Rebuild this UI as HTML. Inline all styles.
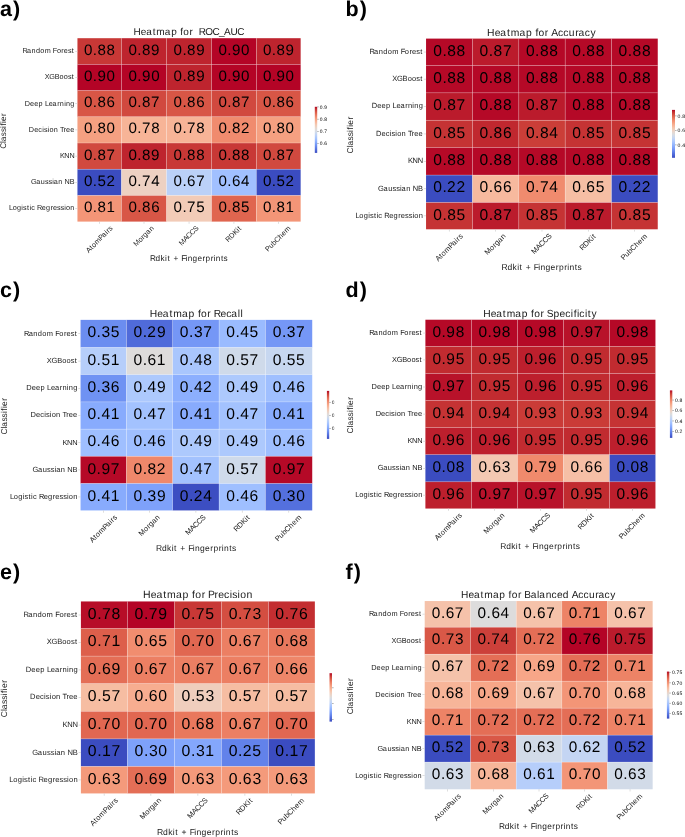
<!DOCTYPE html>
<html><head><meta charset="utf-8"><style>
html,body{margin:0;padding:0;background:#fff;}
body{width:685px;height:837px;overflow:hidden;font-family:"Liberation Sans",sans-serif;}
svg{display:block;filter:blur(0.30px);}
text{font-family:"Liberation Sans",sans-serif;text-rendering:geometricPrecision;}
</style></head><body>
<svg width="685" height="837" viewBox="0 0 685 837" font-family="Liberation Sans, sans-serif" fill="#1a1a1a">
<defs><linearGradient id="ga" x1="0" y1="0" x2="0" y2="1"><stop offset="0.000" stop-color="#b40426"/><stop offset="0.031" stop-color="#be242e"/><stop offset="0.062" stop-color="#ca3b37"/><stop offset="0.094" stop-color="#d44e41"/><stop offset="0.125" stop-color="#dd5f4b"/><stop offset="0.156" stop-color="#e46e56"/><stop offset="0.188" stop-color="#eb7d62"/><stop offset="0.219" stop-color="#f08b6e"/><stop offset="0.250" stop-color="#f4987a"/><stop offset="0.281" stop-color="#f6a586"/><stop offset="0.312" stop-color="#f7b093"/><stop offset="0.344" stop-color="#f7ba9f"/><stop offset="0.375" stop-color="#f5c4ac"/><stop offset="0.406" stop-color="#f1ccb8"/><stop offset="0.438" stop-color="#ecd3c5"/><stop offset="0.469" stop-color="#e5d8d1"/><stop offset="0.500" stop-color="#dddcdc"/><stop offset="0.531" stop-color="#d5dbe5"/><stop offset="0.562" stop-color="#ccd9ed"/><stop offset="0.594" stop-color="#c3d5f4"/><stop offset="0.625" stop-color="#b9d0f9"/><stop offset="0.656" stop-color="#aec9fc"/><stop offset="0.688" stop-color="#a3c2fe"/><stop offset="0.719" stop-color="#98b9ff"/><stop offset="0.750" stop-color="#8db0fe"/><stop offset="0.781" stop-color="#82a6fb"/><stop offset="0.812" stop-color="#779af7"/><stop offset="0.844" stop-color="#6c8ff1"/><stop offset="0.875" stop-color="#6282ea"/><stop offset="0.906" stop-color="#5875e1"/><stop offset="0.938" stop-color="#4e68d8"/><stop offset="0.969" stop-color="#445acc"/><stop offset="1.000" stop-color="#3b4cc0"/></linearGradient><linearGradient id="gb" x1="0" y1="0" x2="0" y2="1"><stop offset="0.000" stop-color="#b40426"/><stop offset="0.031" stop-color="#c0282f"/><stop offset="0.062" stop-color="#ca3b37"/><stop offset="0.094" stop-color="#d44e41"/><stop offset="0.125" stop-color="#dd5f4b"/><stop offset="0.156" stop-color="#e46e56"/><stop offset="0.188" stop-color="#eb7d62"/><stop offset="0.219" stop-color="#f18d6f"/><stop offset="0.250" stop-color="#f4987a"/><stop offset="0.281" stop-color="#f6a586"/><stop offset="0.312" stop-color="#f7b093"/><stop offset="0.344" stop-color="#f7ba9f"/><stop offset="0.375" stop-color="#f4c5ad"/><stop offset="0.406" stop-color="#f1ccb8"/><stop offset="0.438" stop-color="#ecd3c5"/><stop offset="0.469" stop-color="#e5d8d1"/><stop offset="0.500" stop-color="#dddcdc"/><stop offset="0.531" stop-color="#d4dbe6"/><stop offset="0.562" stop-color="#ccd9ed"/><stop offset="0.594" stop-color="#c3d5f4"/><stop offset="0.625" stop-color="#b7cff9"/><stop offset="0.656" stop-color="#aec9fc"/><stop offset="0.688" stop-color="#a2c1ff"/><stop offset="0.719" stop-color="#97b8ff"/><stop offset="0.750" stop-color="#8caffe"/><stop offset="0.781" stop-color="#81a4fb"/><stop offset="0.812" stop-color="#779af7"/><stop offset="0.844" stop-color="#6b8df0"/><stop offset="0.875" stop-color="#6180e9"/><stop offset="0.906" stop-color="#5673e0"/><stop offset="0.938" stop-color="#4c66d6"/><stop offset="0.969" stop-color="#445acc"/><stop offset="1.000" stop-color="#3b4cc0"/></linearGradient><linearGradient id="gc" x1="0" y1="0" x2="0" y2="1"><stop offset="0.000" stop-color="#b40426"/><stop offset="0.031" stop-color="#be242e"/><stop offset="0.062" stop-color="#ca3b37"/><stop offset="0.094" stop-color="#d44e41"/><stop offset="0.125" stop-color="#de614d"/><stop offset="0.156" stop-color="#e57058"/><stop offset="0.188" stop-color="#eb7d62"/><stop offset="0.219" stop-color="#f08b6e"/><stop offset="0.250" stop-color="#f4987a"/><stop offset="0.281" stop-color="#f6a586"/><stop offset="0.312" stop-color="#f7b093"/><stop offset="0.344" stop-color="#f7ba9f"/><stop offset="0.375" stop-color="#f5c4ac"/><stop offset="0.406" stop-color="#f1ccb8"/><stop offset="0.438" stop-color="#ecd3c5"/><stop offset="0.469" stop-color="#e5d8d1"/><stop offset="0.500" stop-color="#dddcdc"/><stop offset="0.531" stop-color="#d5dbe5"/><stop offset="0.562" stop-color="#ccd9ed"/><stop offset="0.594" stop-color="#c1d4f4"/><stop offset="0.625" stop-color="#b7cff9"/><stop offset="0.656" stop-color="#aec9fc"/><stop offset="0.688" stop-color="#a2c1ff"/><stop offset="0.719" stop-color="#98b9ff"/><stop offset="0.750" stop-color="#8db0fe"/><stop offset="0.781" stop-color="#82a6fb"/><stop offset="0.812" stop-color="#779af7"/><stop offset="0.844" stop-color="#6c8ff1"/><stop offset="0.875" stop-color="#6180e9"/><stop offset="0.906" stop-color="#5673e0"/><stop offset="0.938" stop-color="#4c66d6"/><stop offset="0.969" stop-color="#4358cb"/><stop offset="1.000" stop-color="#3b4cc0"/></linearGradient><clipPath id="cc"><rect x="0" y="0" width="334.3" height="837"/></clipPath><linearGradient id="gd" x1="0" y1="0" x2="0" y2="1"><stop offset="0.000" stop-color="#b40426"/><stop offset="0.031" stop-color="#be242e"/><stop offset="0.062" stop-color="#ca3b37"/><stop offset="0.094" stop-color="#d44e41"/><stop offset="0.125" stop-color="#dd5f4b"/><stop offset="0.156" stop-color="#e46e56"/><stop offset="0.188" stop-color="#eb7d62"/><stop offset="0.219" stop-color="#f08b6e"/><stop offset="0.250" stop-color="#f4987a"/><stop offset="0.281" stop-color="#f6a586"/><stop offset="0.312" stop-color="#f7b093"/><stop offset="0.344" stop-color="#f7ba9f"/><stop offset="0.375" stop-color="#f5c4ac"/><stop offset="0.406" stop-color="#f1ccb8"/><stop offset="0.438" stop-color="#ecd3c5"/><stop offset="0.469" stop-color="#e4d9d2"/><stop offset="0.500" stop-color="#dcdddd"/><stop offset="0.531" stop-color="#d4dbe6"/><stop offset="0.562" stop-color="#cbd8ee"/><stop offset="0.594" stop-color="#c1d4f4"/><stop offset="0.625" stop-color="#b7cff9"/><stop offset="0.656" stop-color="#adc9fd"/><stop offset="0.688" stop-color="#a2c1ff"/><stop offset="0.719" stop-color="#97b8ff"/><stop offset="0.750" stop-color="#8caffe"/><stop offset="0.781" stop-color="#81a4fb"/><stop offset="0.812" stop-color="#7699f6"/><stop offset="0.844" stop-color="#6b8df0"/><stop offset="0.875" stop-color="#6180e9"/><stop offset="0.906" stop-color="#5673e0"/><stop offset="0.938" stop-color="#4c66d6"/><stop offset="0.969" stop-color="#4358cb"/><stop offset="1.000" stop-color="#3b4cc0"/></linearGradient><linearGradient id="ge" x1="0" y1="0" x2="0" y2="1"><stop offset="0.000" stop-color="#b40426"/><stop offset="0.031" stop-color="#be242e"/><stop offset="0.062" stop-color="#ca3b37"/><stop offset="0.094" stop-color="#d44e41"/><stop offset="0.125" stop-color="#dd5f4b"/><stop offset="0.156" stop-color="#e46e56"/><stop offset="0.188" stop-color="#ec7f63"/><stop offset="0.219" stop-color="#f08b6e"/><stop offset="0.250" stop-color="#f49a7b"/><stop offset="0.281" stop-color="#f6a586"/><stop offset="0.312" stop-color="#f7b093"/><stop offset="0.344" stop-color="#f7ba9f"/><stop offset="0.375" stop-color="#f5c4ac"/><stop offset="0.406" stop-color="#f1cdba"/><stop offset="0.438" stop-color="#ecd3c5"/><stop offset="0.469" stop-color="#e5d8d1"/><stop offset="0.500" stop-color="#dddcdc"/><stop offset="0.531" stop-color="#d5dbe5"/><stop offset="0.562" stop-color="#ccd9ed"/><stop offset="0.594" stop-color="#c3d5f4"/><stop offset="0.625" stop-color="#b9d0f9"/><stop offset="0.656" stop-color="#aec9fc"/><stop offset="0.688" stop-color="#a3c2fe"/><stop offset="0.719" stop-color="#98b9ff"/><stop offset="0.750" stop-color="#8db0fe"/><stop offset="0.781" stop-color="#82a6fb"/><stop offset="0.812" stop-color="#779af7"/><stop offset="0.844" stop-color="#6c8ff1"/><stop offset="0.875" stop-color="#6282ea"/><stop offset="0.906" stop-color="#5673e0"/><stop offset="0.938" stop-color="#4e68d8"/><stop offset="0.969" stop-color="#4358cb"/><stop offset="1.000" stop-color="#3b4cc0"/></linearGradient><clipPath id="ce"><rect x="0" y="0" width="334.0" height="837"/></clipPath><linearGradient id="gf" x1="0" y1="0" x2="0" y2="1"><stop offset="0.000" stop-color="#b40426"/><stop offset="0.031" stop-color="#c0282f"/><stop offset="0.062" stop-color="#ca3b37"/><stop offset="0.094" stop-color="#d55042"/><stop offset="0.125" stop-color="#dd5f4b"/><stop offset="0.156" stop-color="#e57058"/><stop offset="0.188" stop-color="#eb7d62"/><stop offset="0.219" stop-color="#f18d6f"/><stop offset="0.250" stop-color="#f4987a"/><stop offset="0.281" stop-color="#f7a688"/><stop offset="0.312" stop-color="#f7b093"/><stop offset="0.344" stop-color="#f7bca1"/><stop offset="0.375" stop-color="#f5c4ac"/><stop offset="0.406" stop-color="#f1ccb8"/><stop offset="0.438" stop-color="#ecd3c5"/><stop offset="0.469" stop-color="#e5d8d1"/><stop offset="0.500" stop-color="#dcdddd"/><stop offset="0.531" stop-color="#d5dbe5"/><stop offset="0.562" stop-color="#ccd9ed"/><stop offset="0.594" stop-color="#c3d5f4"/><stop offset="0.625" stop-color="#b7cff9"/><stop offset="0.656" stop-color="#aec9fc"/><stop offset="0.688" stop-color="#a2c1ff"/><stop offset="0.719" stop-color="#98b9ff"/><stop offset="0.750" stop-color="#8caffe"/><stop offset="0.781" stop-color="#82a6fb"/><stop offset="0.812" stop-color="#7699f6"/><stop offset="0.844" stop-color="#6c8ff1"/><stop offset="0.875" stop-color="#6180e9"/><stop offset="0.906" stop-color="#5673e0"/><stop offset="0.938" stop-color="#4c66d6"/><stop offset="0.969" stop-color="#445acc"/><stop offset="1.000" stop-color="#3b4cc0"/></linearGradient></defs>
<rect width="685" height="837" fill="#fff"/>
<g id="pa"><rect x="77.45" y="38.20" width="44.05" height="26.20" fill="#c83836"/>
<rect x="121.45" y="38.20" width="45.15" height="26.20" fill="#be242e"/>
<rect x="166.55" y="38.20" width="45.05" height="26.20" fill="#be242e"/>
<rect x="211.55" y="38.20" width="44.83" height="26.20" fill="#b40426"/>
<rect x="256.33" y="38.20" width="44.32" height="26.20" fill="#be242e"/>
<rect x="77.45" y="64.35" width="44.05" height="26.27" fill="#b40426"/>
<rect x="121.45" y="64.35" width="45.15" height="26.27" fill="#b40426"/>
<rect x="166.55" y="64.35" width="45.05" height="26.27" fill="#be242e"/>
<rect x="211.55" y="64.35" width="44.83" height="26.27" fill="#b40426"/>
<rect x="256.33" y="64.35" width="44.32" height="26.27" fill="#b40426"/>
<rect x="77.45" y="90.57" width="44.05" height="26.27" fill="#d85646"/>
<rect x="121.45" y="90.57" width="45.15" height="26.27" fill="#d1493f"/>
<rect x="166.55" y="90.57" width="45.05" height="26.27" fill="#d85646"/>
<rect x="211.55" y="90.57" width="44.83" height="26.27" fill="#d1493f"/>
<rect x="256.33" y="90.57" width="44.32" height="26.27" fill="#d85646"/>
<rect x="77.45" y="116.79" width="44.05" height="26.27" fill="#f5a081"/>
<rect x="121.45" y="116.79" width="45.15" height="26.27" fill="#f7b497"/>
<rect x="166.55" y="116.79" width="45.05" height="26.27" fill="#f7b497"/>
<rect x="211.55" y="116.79" width="44.83" height="26.27" fill="#f08b6e"/>
<rect x="256.33" y="116.79" width="44.32" height="26.27" fill="#f5a081"/>
<rect x="77.45" y="143.01" width="44.05" height="26.27" fill="#d1493f"/>
<rect x="121.45" y="143.01" width="45.15" height="26.27" fill="#be242e"/>
<rect x="166.55" y="143.01" width="45.05" height="26.27" fill="#c83836"/>
<rect x="211.55" y="143.01" width="44.83" height="26.27" fill="#c83836"/>
<rect x="256.33" y="143.01" width="44.32" height="26.27" fill="#d1493f"/>
<rect x="77.45" y="169.23" width="44.05" height="26.27" fill="#3b4cc0"/>
<rect x="121.45" y="169.23" width="45.15" height="26.27" fill="#edd1c2"/>
<rect x="166.55" y="169.23" width="45.05" height="26.27" fill="#bbd1f8"/>
<rect x="211.55" y="169.23" width="44.83" height="26.27" fill="#a1c0ff"/>
<rect x="256.33" y="169.23" width="44.32" height="26.27" fill="#3b4cc0"/>
<rect x="77.45" y="195.45" width="44.05" height="26.15" fill="#f39577"/>
<rect x="121.45" y="195.45" width="45.15" height="26.15" fill="#d85646"/>
<rect x="166.55" y="195.45" width="45.05" height="26.15" fill="#f2cbb7"/>
<rect x="211.55" y="195.45" width="44.83" height="26.15" fill="#e0654f"/>
<rect x="256.33" y="195.45" width="44.32" height="26.15" fill="#f39577"/>
<rect x="121.17" y="38.20" width="0.55" height="183.35" fill="#fff" fill-opacity="0.48"/>
<rect x="166.28" y="38.20" width="0.55" height="183.35" fill="#fff" fill-opacity="0.48"/>
<rect x="211.28" y="38.20" width="0.55" height="183.35" fill="#fff" fill-opacity="0.48"/>
<rect x="256.06" y="38.20" width="0.55" height="183.35" fill="#fff" fill-opacity="0.48"/>
<rect x="77.45" y="64.07" width="223.15" height="0.55" fill="#fff" fill-opacity="0.48"/>
<rect x="77.45" y="90.29" width="223.15" height="0.55" fill="#fff" fill-opacity="0.48"/>
<rect x="77.45" y="116.51" width="223.15" height="0.55" fill="#fff" fill-opacity="0.48"/>
<rect x="77.45" y="142.73" width="223.15" height="0.55" fill="#fff" fill-opacity="0.48"/>
<rect x="77.45" y="168.95" width="223.15" height="0.55" fill="#fff" fill-opacity="0.48"/>
<rect x="77.45" y="195.17" width="223.15" height="0.55" fill="#fff" fill-opacity="0.48"/>
<text x="83.89 92.80 97.51 106.59" y="54.84" font-size="15.13" fill="#000">0.88</text>
<text x="128.44 137.35 142.06 151.10" y="54.84" font-size="15.13" fill="#000">0.89</text>
<text x="173.49 182.40 187.11 196.15" y="54.84" font-size="15.13" fill="#000">0.89</text>
<text x="218.38 227.29 231.95 241.08" y="54.84" font-size="15.13" fill="#000">0.90</text>
<text x="262.90 271.82 276.52 285.56" y="54.84" font-size="15.13" fill="#000">0.89</text>
<text x="83.89 92.80 97.46 106.59" y="81.03" font-size="15.13" fill="#000">0.90</text>
<text x="128.44 137.35 142.01 151.14" y="81.03" font-size="15.13" fill="#000">0.90</text>
<text x="173.49 182.40 187.11 196.15" y="81.03" font-size="15.13" fill="#000">0.89</text>
<text x="218.38 227.29 231.95 241.08" y="81.03" font-size="15.13" fill="#000">0.90</text>
<text x="262.90 271.82 276.48 285.61" y="81.03" font-size="15.13" fill="#000">0.90</text>
<text x="83.89 92.80 97.51 106.59" y="107.25" font-size="15.13" fill="#000">0.86</text>
<text x="128.44 137.35 142.06 151.11" y="107.25" font-size="15.13" fill="#000">0.87</text>
<text x="173.49 182.40 187.11 196.19" y="107.25" font-size="15.13" fill="#000">0.86</text>
<text x="218.38 227.29 232.00 241.05" y="107.25" font-size="15.13" fill="#000">0.87</text>
<text x="262.90 271.82 276.52 285.61" y="107.25" font-size="15.13" fill="#000">0.86</text>
<text x="83.89 92.80 97.51 106.59" y="133.47" font-size="15.13" fill="#000">0.80</text>
<text x="128.44 137.35 142.03 151.14" y="133.47" font-size="15.13" fill="#000">0.78</text>
<text x="173.49 182.40 187.08 196.19" y="133.47" font-size="15.13" fill="#000">0.78</text>
<text x="218.38 227.29 232.00 240.89" y="133.47" font-size="15.13" fill="#000">0.82</text>
<text x="262.90 271.82 276.52 285.61" y="133.47" font-size="15.13" fill="#000">0.80</text>
<text x="83.89 92.80 97.51 106.56" y="159.69" font-size="15.13" fill="#000">0.87</text>
<text x="128.44 137.35 142.06 151.10" y="159.69" font-size="15.13" fill="#000">0.89</text>
<text x="173.49 182.40 187.11 196.19" y="159.69" font-size="15.13" fill="#000">0.88</text>
<text x="218.38 227.29 232.00 241.08" y="159.69" font-size="15.13" fill="#000">0.88</text>
<text x="262.90 271.82 276.52 285.58" y="159.69" font-size="15.13" fill="#000">0.87</text>
<text x="83.89 92.80 97.45 106.40" y="185.91" font-size="15.13" fill="#000">0.52</text>
<text x="128.44 137.35 142.03 151.14" y="185.91" font-size="15.13" fill="#000">0.74</text>
<text x="173.49 182.40 187.11 196.16" y="185.91" font-size="15.13" fill="#000">0.67</text>
<text x="218.38 227.29 232.00 241.08" y="185.91" font-size="15.13" fill="#000">0.64</text>
<text x="262.90 271.82 276.47 285.42" y="185.91" font-size="15.13" fill="#000">0.52</text>
<text x="83.89 92.80 97.51 106.51" y="212.07" font-size="15.13" fill="#000">0.81</text>
<text x="128.44 137.35 142.06 151.14" y="212.07" font-size="15.13" fill="#000">0.86</text>
<text x="173.49 182.40 187.08 196.14" y="212.07" font-size="15.13" fill="#000">0.75</text>
<text x="218.38 227.29 232.00 241.03" y="212.07" font-size="15.13" fill="#000">0.85</text>
<text x="262.90 271.82 276.52 285.53" y="212.07" font-size="15.13" fill="#000">0.81</text>
<text x="22.54 27.09 31.62 35.90 40.20 44.64 50.96 52.87 56.90 61.33 63.76 67.89 71.74" y="53.16" font-size="7.24">Random Forest</text>
<rect x="75.20" y="50.98" width="2.25" height="0.6" fill="#c8c8c8"/>
<text x="44.75 49.35 54.73 59.58 63.76 67.89 71.74" y="79.35" font-size="7.24">XGBoost</text>
<rect x="75.20" y="77.16" width="2.25" height="0.6" fill="#c8c8c8"/>
<text x="24.74 30.08 34.28 38.58 42.72 44.93 48.69 52.61 57.30 59.83 64.14 66.06 70.34" y="105.57" font-size="7.24">Deep Learning</text>
<rect x="75.20" y="103.38" width="2.25" height="0.6" fill="#c8c8c8"/>
<text x="28.83 34.17 38.26 42.17 43.94 47.63 49.46 53.73 57.90 59.95 63.57 66.00 70.20" y="131.79" font-size="7.24">Decision Tree</text>
<rect x="75.20" y="129.60" width="2.25" height="0.6" fill="#c8c8c8"/>
<text x="59.88 64.33 69.44" y="158.01" font-size="7.24">KNN</text>
<rect x="75.20" y="155.82" width="2.25" height="0.6" fill="#c8c8c8"/>
<text x="30.93 36.22 40.72 44.93 48.49 52.18 53.76 58.29 62.45 64.57 69.66" y="184.23" font-size="7.24">Gaussian NB</text>
<rect x="75.20" y="182.04" width="2.25" height="0.6" fill="#c8c8c8"/>
<text x="9.00 12.74 16.95 21.33 23.09 26.95 29.46 31.20 34.97 37.01 41.69 45.90 50.46 52.89 57.01 60.57 64.26 66.09 70.36" y="210.39" font-size="7.24">Logistic Regression</text>
<rect x="75.20" y="208.20" width="2.25" height="0.6" fill="#c8c8c8"/>
<rect x="99.15" y="221.55" width="0.6" height="2.25" fill="#c8c8c8"/>
<text x="-0.08 4.87 7.31 11.75 17.83 21.71 26.22 28.30 30.80" y="0.00" font-size="7.24" transform="translate(88.74,253.09) rotate(-45)">AtomPairs</text>
<rect x="143.70" y="221.55" width="0.6" height="2.25" fill="#c8c8c8"/>
<text x="-0.07 5.97 10.41 12.88 16.93 21.46" y="0.00" font-size="7.24" transform="translate(136.24,246.75) rotate(-45)">Morgan</text>
<rect x="188.75" y="221.55" width="0.6" height="2.25" fill="#c8c8c8"/>
<text x="-0.07 5.82 10.18 14.95 19.79" y="0.00" font-size="7.24" transform="translate(181.68,245.98) rotate(-45)">MACCS</text>
<rect x="233.64" y="221.55" width="0.6" height="2.25" fill="#c8c8c8"/>
<text x="-0.13 4.77 9.99 14.64 16.71" y="0.00" font-size="7.24" transform="translate(228.35,242.41) rotate(-45)">RDKit</text>
<rect x="278.17" y="221.55" width="0.6" height="2.25" fill="#c8c8c8"/>
<text x="-0.24 4.14 8.53 12.40 17.60 21.88 26.31" y="0.00" font-size="7.24" transform="translate(268.23,251.71) rotate(-45)">PubChem</text>
<text x="133.44 140.75 146.17 152.64 156.36 164.85 171.16 176.88 180.27 183.31 189.43 192.86 195.86 198.68 205.25 212.48 219.05 224.06 230.47 237.17" y="35.28" font-size="10.00" style="white-space:pre">Heatmap for  ROC_AUC</text>
<text x="149.91 155.58 160.62 165.03 167.38 170.06 173.38 179.03 181.19 185.56 187.73 192.59 197.50 202.53 205.57 210.64 213.62 215.80 220.88 223.58" y="261.16" font-size="8.22">Rdkit + Fingerprints</text>
<text x="-0.30 5.58 7.37 12.34 16.38 20.57 22.88 25.46 27.56 32.59" y="0.00" font-size="8.22" transform="translate(6.41,148.49) rotate(-90)">Classifier</text>
<rect x="314.80" y="106.80" width="2.40" height="46.10" fill="url(#ga)"/>
<g><rect x="317.20" y="106.62" width="1.57" height="0.6" fill="#888"/><text x="319.80 322.72 324.25" y="108.66" font-size="4.95" fill="#000">0.9</text><rect x="317.20" y="118.87" width="1.57" height="0.6" fill="#888"/><text x="319.80 322.72 324.26" y="120.90" font-size="4.95" fill="#000">0.8</text><rect x="317.20" y="131.11" width="1.57" height="0.6" fill="#888"/><text x="319.80 322.72 324.25" y="133.15" font-size="4.95" fill="#000">0.7</text><rect x="317.20" y="143.36" width="1.57" height="0.6" fill="#888"/><text x="319.80 322.72 324.26" y="145.39" font-size="4.95" fill="#000">0.6</text></g>
<text x="0.0" y="15.8" font-size="21.5" font-weight="bold" fill="#000">a<tspan dx="1">)</tspan></text></g><g id="pb"><rect x="426.05" y="38.60" width="46.43" height="26.88" fill="#b50927"/>
<rect x="472.43" y="38.60" width="46.41" height="26.88" fill="#bb1b2c"/>
<rect x="518.79" y="38.60" width="46.41" height="26.88" fill="#b50927"/>
<rect x="565.16" y="38.60" width="46.41" height="26.88" fill="#b50927"/>
<rect x="611.52" y="38.60" width="46.23" height="26.88" fill="#b50927"/>
<rect x="426.05" y="65.43" width="46.43" height="27.46" fill="#b50927"/>
<rect x="472.43" y="65.43" width="46.41" height="27.46" fill="#b50927"/>
<rect x="518.79" y="65.43" width="46.41" height="27.46" fill="#b50927"/>
<rect x="565.16" y="65.43" width="46.41" height="27.46" fill="#b50927"/>
<rect x="611.52" y="65.43" width="46.23" height="27.46" fill="#b50927"/>
<rect x="426.05" y="92.84" width="46.43" height="27.46" fill="#bb1b2c"/>
<rect x="472.43" y="92.84" width="46.41" height="27.46" fill="#b50927"/>
<rect x="518.79" y="92.84" width="46.41" height="27.46" fill="#bb1b2c"/>
<rect x="565.16" y="92.84" width="46.41" height="27.46" fill="#b50927"/>
<rect x="611.52" y="92.84" width="46.23" height="27.46" fill="#b50927"/>
<rect x="426.05" y="120.25" width="46.43" height="27.46" fill="#c53334"/>
<rect x="472.43" y="120.25" width="46.41" height="27.46" fill="#c0282f"/>
<rect x="518.79" y="120.25" width="46.41" height="27.46" fill="#cb3e38"/>
<rect x="565.16" y="120.25" width="46.41" height="27.46" fill="#c53334"/>
<rect x="611.52" y="120.25" width="46.23" height="27.46" fill="#c53334"/>
<rect x="426.05" y="147.66" width="46.43" height="27.46" fill="#b50927"/>
<rect x="472.43" y="147.66" width="46.41" height="27.46" fill="#b50927"/>
<rect x="518.79" y="147.66" width="46.41" height="27.46" fill="#b50927"/>
<rect x="565.16" y="147.66" width="46.41" height="27.46" fill="#b50927"/>
<rect x="611.52" y="147.66" width="46.23" height="27.46" fill="#b50927"/>
<rect x="426.05" y="175.07" width="46.43" height="27.46" fill="#3b4cc0"/>
<rect x="472.43" y="175.07" width="46.41" height="27.46" fill="#f7b99e"/>
<rect x="518.79" y="175.07" width="46.41" height="27.46" fill="#f08b6e"/>
<rect x="565.16" y="175.07" width="46.41" height="27.46" fill="#f6bea4"/>
<rect x="611.52" y="175.07" width="46.23" height="27.46" fill="#3b4cc0"/>
<rect x="426.05" y="202.48" width="46.43" height="26.82" fill="#c53334"/>
<rect x="472.43" y="202.48" width="46.41" height="26.82" fill="#bb1b2c"/>
<rect x="518.79" y="202.48" width="46.41" height="26.82" fill="#c53334"/>
<rect x="565.16" y="202.48" width="46.41" height="26.82" fill="#bb1b2c"/>
<rect x="611.52" y="202.48" width="46.23" height="26.82" fill="#c53334"/>
<rect x="472.16" y="38.60" width="0.55" height="190.65" fill="#fff" fill-opacity="0.48"/>
<rect x="518.52" y="38.60" width="0.55" height="190.65" fill="#fff" fill-opacity="0.48"/>
<rect x="564.88" y="38.60" width="0.55" height="190.65" fill="#fff" fill-opacity="0.48"/>
<rect x="611.25" y="38.60" width="0.55" height="190.65" fill="#fff" fill-opacity="0.48"/>
<rect x="426.05" y="65.16" width="231.65" height="0.55" fill="#fff" fill-opacity="0.48"/>
<rect x="426.05" y="92.56" width="231.65" height="0.55" fill="#fff" fill-opacity="0.48"/>
<rect x="426.05" y="119.97" width="231.65" height="0.55" fill="#fff" fill-opacity="0.48"/>
<rect x="426.05" y="147.38" width="231.65" height="0.55" fill="#fff" fill-opacity="0.48"/>
<rect x="426.05" y="174.79" width="231.65" height="0.55" fill="#fff" fill-opacity="0.48"/>
<rect x="426.05" y="202.20" width="231.65" height="0.55" fill="#fff" fill-opacity="0.48"/>
<text x="433.19 442.38 447.24 456.60" y="55.70" font-size="15.60" fill="#000">0.88</text>
<text x="479.57 488.75 493.61 502.95" y="55.70" font-size="15.60" fill="#000">0.87</text>
<text x="525.93 535.12 539.97 549.34" y="55.70" font-size="15.60" fill="#000">0.88</text>
<text x="572.29 581.48 586.34 595.70" y="55.70" font-size="15.60" fill="#000">0.88</text>
<text x="618.56 627.75 632.61 641.97" y="55.70" font-size="15.60" fill="#000">0.88</text>
<text x="433.19 442.38 447.24 456.60" y="82.82" font-size="15.60" fill="#000">0.88</text>
<text x="479.57 488.75 493.61 502.98" y="82.82" font-size="15.60" fill="#000">0.88</text>
<text x="525.93 535.12 539.97 549.34" y="82.82" font-size="15.60" fill="#000">0.88</text>
<text x="572.29 581.48 586.34 595.70" y="82.82" font-size="15.60" fill="#000">0.88</text>
<text x="618.56 627.75 632.61 641.97" y="82.82" font-size="15.60" fill="#000">0.88</text>
<text x="433.19 442.38 447.24 456.58" y="110.23" font-size="15.60" fill="#000">0.87</text>
<text x="479.57 488.75 493.61 502.98" y="110.23" font-size="15.60" fill="#000">0.88</text>
<text x="525.93 535.12 539.97 549.31" y="110.23" font-size="15.60" fill="#000">0.87</text>
<text x="572.29 581.48 586.34 595.70" y="110.23" font-size="15.60" fill="#000">0.88</text>
<text x="618.56 627.75 632.61 641.97" y="110.23" font-size="15.60" fill="#000">0.88</text>
<text x="433.19 442.38 447.24 456.55" y="137.64" font-size="15.60" fill="#000">0.85</text>
<text x="479.57 488.75 493.61 502.98" y="137.64" font-size="15.60" fill="#000">0.86</text>
<text x="525.93 535.12 539.97 549.34" y="137.64" font-size="15.60" fill="#000">0.84</text>
<text x="572.29 581.48 586.34 595.65" y="137.64" font-size="15.60" fill="#000">0.85</text>
<text x="618.56 627.75 632.61 641.92" y="137.64" font-size="15.60" fill="#000">0.85</text>
<text x="433.19 442.38 447.24 456.60" y="165.05" font-size="15.60" fill="#000">0.88</text>
<text x="479.57 488.75 493.61 502.98" y="165.05" font-size="15.60" fill="#000">0.88</text>
<text x="525.93 535.12 539.97 549.34" y="165.05" font-size="15.60" fill="#000">0.88</text>
<text x="572.29 581.48 586.34 595.70" y="165.05" font-size="15.60" fill="#000">0.88</text>
<text x="618.56 627.75 632.61 641.97" y="165.05" font-size="15.60" fill="#000">0.88</text>
<text x="433.19 442.38 447.04 456.41" y="192.46" font-size="15.60" fill="#000">0.22</text>
<text x="479.57 488.75 493.61 502.98" y="192.46" font-size="15.60" fill="#000">0.66</text>
<text x="525.93 535.12 539.94 549.34" y="192.46" font-size="15.60" fill="#000">0.74</text>
<text x="572.29 581.48 586.34 595.65" y="192.46" font-size="15.60" fill="#000">0.65</text>
<text x="618.56 627.75 632.41 641.78" y="192.46" font-size="15.60" fill="#000">0.22</text>
<text x="433.19 442.38 447.24 456.55" y="219.55" font-size="15.60" fill="#000">0.85</text>
<text x="479.57 488.75 493.61 502.95" y="219.55" font-size="15.60" fill="#000">0.87</text>
<text x="525.93 535.12 539.97 549.28" y="219.55" font-size="15.60" fill="#000">0.85</text>
<text x="572.29 581.48 586.34 595.67" y="219.55" font-size="15.60" fill="#000">0.87</text>
<text x="618.56 627.75 632.61 641.92" y="219.55" font-size="15.60" fill="#000">0.85</text>
<text x="369.42 374.12 378.79 383.20 387.64 392.21 398.74 400.71 404.86 409.43 411.94 416.19 420.16" y="53.96" font-size="7.47">Random Forest</text>
<rect x="423.73" y="51.72" width="2.32" height="0.6" fill="#c8c8c8"/>
<text x="392.33 397.08 402.62 407.63 411.94 416.19 420.16" y="81.08" font-size="7.47">XGBoost</text>
<rect x="423.73" y="78.84" width="2.32" height="0.6" fill="#c8c8c8"/>
<text x="371.70 377.20 381.54 385.97 390.24 392.51 396.39 400.43 405.28 407.88 412.33 414.31 418.72" y="108.49" font-size="7.47">Deep Learning</text>
<rect x="423.73" y="106.25" width="2.32" height="0.6" fill="#c8c8c8"/>
<text x="375.91 381.42 385.63 389.67 391.50 395.30 397.19 401.59 405.89 408.00 411.73 414.24 418.58" y="135.90" font-size="7.47">Decision Tree</text>
<rect x="423.73" y="133.65" width="2.32" height="0.6" fill="#c8c8c8"/>
<text x="407.94 412.52 417.79" y="163.31" font-size="7.47">KNN</text>
<rect x="423.73" y="161.06" width="2.32" height="0.6" fill="#c8c8c8"/>
<text x="378.08 383.53 388.18 392.52 396.19 400.00 401.62 406.29 410.59 412.76 418.01" y="190.72" font-size="7.47">Gaussian NB</text>
<rect x="423.73" y="188.47" width="2.32" height="0.6" fill="#c8c8c8"/>
<text x="355.46 359.32 363.67 368.17 370.00 373.98 376.57 378.36 382.25 384.35 389.17 393.52 398.21 400.72 404.97 408.64 412.45 414.34 418.74" y="217.81" font-size="7.47">Logistic Regression</text>
<rect x="423.73" y="215.56" width="2.32" height="0.6" fill="#c8c8c8"/>
<rect x="448.94" y="229.25" width="0.6" height="2.32" fill="#c8c8c8"/>
<text x="-0.08 5.02 7.54 12.11 18.39 22.39 27.04 29.19 31.76" y="0.00" font-size="7.47" transform="translate(438.20,261.78) rotate(-45)">AtomPairs</text>
<rect x="495.31" y="229.25" width="0.6" height="2.32" fill="#c8c8c8"/>
<text x="-0.07 6.16 10.73 13.28 17.45 22.13" y="0.00" font-size="7.47" transform="translate(487.61,255.24) rotate(-45)">Morgan</text>
<rect x="541.67" y="229.25" width="0.6" height="2.32" fill="#c8c8c8"/>
<text x="-0.07 6.00 10.50 15.42 20.40" y="0.00" font-size="7.47" transform="translate(534.37,254.44) rotate(-45)">MACCS</text>
<rect x="588.04" y="229.25" width="0.6" height="2.32" fill="#c8c8c8"/>
<text x="-0.14 4.92 10.30 15.10 17.23" y="0.00" font-size="7.47" transform="translate(582.58,250.76) rotate(-45)">RDKit</text>
<rect x="634.31" y="229.25" width="0.6" height="2.32" fill="#c8c8c8"/>
<text x="-0.25 4.27 8.80 12.79 18.15 22.56 27.13" y="0.00" font-size="7.47" transform="translate(624.05,260.35) rotate(-45)">PubChem</text>
<text x="487.10 494.63 500.22 506.89 510.73 519.49 525.99 531.89 535.39 538.53 544.84 548.37 551.36 557.94 563.29 568.86 575.30 578.58 584.79 590.46" y="35.59" font-size="10.32" style="white-space:pre">Heatmap for Accuracy</text>
<text x="501.54 507.39 512.59 517.14 519.55 522.32 525.74 531.56 533.80 538.30 540.54 545.55 550.61 555.80 558.93 564.16 567.24 569.48 574.73 577.51" y="270.10" font-size="8.47">Rdkit + Fingerprints</text>
<text x="-0.31 5.75 7.60 12.73 16.90 21.21 23.60 26.25 28.42 33.61" y="0.00" font-size="8.47" transform="translate(352.80,153.10) rotate(-90)">Classifier</text>
<rect x="672.00" y="109.90" width="3.00" height="47.90" fill="url(#gb)"/>
<g><rect x="675.00" y="115.61" width="1.62" height="0.6" fill="#888"/><text x="677.59 680.60 682.19" y="117.70" font-size="5.11" fill="#000">0.8</text><rect x="675.00" y="130.11" width="1.62" height="0.6" fill="#888"/><text x="677.59 680.60 682.19" y="132.20" font-size="5.11" fill="#000">0.6</text><rect x="675.00" y="144.60" width="1.62" height="0.6" fill="#888"/><text x="677.59 680.60 682.19" y="146.69" font-size="5.11" fill="#000">0.4</text></g>
<text x="345.5" y="15.8" font-size="21.5" font-weight="bold" fill="#000">b<tspan dx="1">)</tspan></text></g><g id="pc"><rect x="80.55" y="319.87" width="45.90" height="27.68" fill="#6b8df0"/>
<rect x="126.40" y="319.87" width="46.38" height="27.68" fill="#506bda"/>
<rect x="172.73" y="319.87" width="46.38" height="27.68" fill="#7597f6"/>
<rect x="219.07" y="319.87" width="46.38" height="27.68" fill="#9abbff"/>
<rect x="265.40" y="319.87" width="46.83" height="27.68" fill="#7597f6"/>
<rect x="80.55" y="347.50" width="45.90" height="27.25" fill="#b6cefa"/>
<rect x="126.40" y="347.50" width="46.38" height="27.25" fill="#dedcdb"/>
<rect x="172.73" y="347.50" width="46.38" height="27.25" fill="#a9c6fd"/>
<rect x="219.07" y="347.50" width="46.38" height="27.25" fill="#cfdaea"/>
<rect x="265.40" y="347.50" width="46.83" height="27.25" fill="#c7d7f0"/>
<rect x="80.55" y="374.70" width="45.90" height="27.25" fill="#6f92f3"/>
<rect x="126.40" y="374.70" width="46.38" height="27.25" fill="#adc9fd"/>
<rect x="172.73" y="374.70" width="46.38" height="27.25" fill="#8caffe"/>
<rect x="219.07" y="374.70" width="46.38" height="27.25" fill="#adc9fd"/>
<rect x="265.40" y="374.70" width="46.83" height="27.25" fill="#9fbfff"/>
<rect x="80.55" y="401.90" width="45.90" height="27.25" fill="#88abfd"/>
<rect x="126.40" y="401.90" width="46.38" height="27.25" fill="#a3c2fe"/>
<rect x="172.73" y="401.90" width="46.38" height="27.25" fill="#88abfd"/>
<rect x="219.07" y="401.90" width="46.38" height="27.25" fill="#a3c2fe"/>
<rect x="265.40" y="401.90" width="46.83" height="27.25" fill="#88abfd"/>
<rect x="80.55" y="429.10" width="45.90" height="27.25" fill="#9fbfff"/>
<rect x="126.40" y="429.10" width="46.38" height="27.25" fill="#9fbfff"/>
<rect x="172.73" y="429.10" width="46.38" height="27.25" fill="#adc9fd"/>
<rect x="219.07" y="429.10" width="46.38" height="27.25" fill="#adc9fd"/>
<rect x="265.40" y="429.10" width="46.83" height="27.25" fill="#9fbfff"/>
<rect x="80.55" y="456.30" width="45.90" height="27.25" fill="#b50927"/>
<rect x="126.40" y="456.30" width="46.38" height="27.25" fill="#ef886b"/>
<rect x="172.73" y="456.30" width="46.38" height="27.25" fill="#a3c2fe"/>
<rect x="219.07" y="456.30" width="46.38" height="27.25" fill="#cfdaea"/>
<rect x="265.40" y="456.30" width="46.83" height="27.25" fill="#b50927"/>
<rect x="80.55" y="483.50" width="45.90" height="26.93" fill="#88abfd"/>
<rect x="126.40" y="483.50" width="46.38" height="26.93" fill="#7ea1fa"/>
<rect x="172.73" y="483.50" width="46.38" height="26.93" fill="#3c4ec2"/>
<rect x="219.07" y="483.50" width="46.38" height="26.93" fill="#9fbfff"/>
<rect x="265.40" y="483.50" width="46.83" height="26.93" fill="#5470de"/>
<rect x="126.12" y="319.87" width="0.55" height="190.51" fill="#fff" fill-opacity="0.48"/>
<rect x="172.46" y="319.87" width="0.55" height="190.51" fill="#fff" fill-opacity="0.48"/>
<rect x="218.79" y="319.87" width="0.55" height="190.51" fill="#fff" fill-opacity="0.48"/>
<rect x="265.12" y="319.87" width="0.55" height="190.51" fill="#fff" fill-opacity="0.48"/>
<rect x="80.55" y="347.23" width="231.63" height="0.55" fill="#fff" fill-opacity="0.48"/>
<rect x="80.55" y="374.43" width="231.63" height="0.55" fill="#fff" fill-opacity="0.48"/>
<rect x="80.55" y="401.62" width="231.63" height="0.55" fill="#fff" fill-opacity="0.48"/>
<rect x="80.55" y="428.83" width="231.63" height="0.55" fill="#fff" fill-opacity="0.48"/>
<rect x="80.55" y="456.03" width="231.63" height="0.55" fill="#fff" fill-opacity="0.48"/>
<rect x="80.55" y="483.23" width="231.63" height="0.55" fill="#fff" fill-opacity="0.48"/>
<text x="87.44 96.62 101.50 110.78" y="337.36" font-size="15.59" fill="#000">0.35</text>
<text x="133.53 142.71 147.37 156.88" y="337.36" font-size="15.59" fill="#000">0.29</text>
<text x="179.86 189.05 193.92 203.23" y="337.36" font-size="15.59" fill="#000">0.37</text>
<text x="226.20 235.38 240.23 249.54" y="337.36" font-size="15.59" fill="#000">0.45</text>
<text x="272.75 281.94 286.81 296.12" y="337.36" font-size="15.59" fill="#000">0.37</text>
<text x="87.44 96.62 101.42 110.75" y="364.78" font-size="15.59" fill="#000">0.51</text>
<text x="133.53 142.71 147.57 156.85" y="364.78" font-size="15.59" fill="#000">0.61</text>
<text x="179.86 189.05 193.90 203.26" y="364.78" font-size="15.59" fill="#000">0.48</text>
<text x="226.20 235.38 240.18 249.56" y="364.78" font-size="15.59" fill="#000">0.57</text>
<text x="272.75 281.94 286.73 296.09" y="364.78" font-size="15.59" fill="#000">0.55</text>
<text x="87.44 96.62 101.50 110.84" y="391.98" font-size="15.59" fill="#000">0.36</text>
<text x="133.53 142.71 147.57 156.88" y="391.98" font-size="15.59" fill="#000">0.49</text>
<text x="179.86 189.05 193.90 203.07" y="391.98" font-size="15.59" fill="#000">0.42</text>
<text x="226.20 235.38 240.23 249.55" y="391.98" font-size="15.59" fill="#000">0.49</text>
<text x="272.75 281.94 286.79 296.15" y="391.98" font-size="15.59" fill="#000">0.46</text>
<text x="87.44 96.62 101.47 110.75" y="419.18" font-size="15.59" fill="#000">0.41</text>
<text x="133.53 142.71 147.57 156.90" y="419.18" font-size="15.59" fill="#000">0.47</text>
<text x="179.86 189.05 193.90 203.18" y="419.18" font-size="15.59" fill="#000">0.41</text>
<text x="226.20 235.38 240.23 249.56" y="419.18" font-size="15.59" fill="#000">0.47</text>
<text x="272.75 281.94 286.79 296.07" y="419.18" font-size="15.59" fill="#000">0.41</text>
<text x="87.44 96.62 101.47 110.84" y="446.38" font-size="15.59" fill="#000">0.46</text>
<text x="133.53 142.71 147.57 156.93" y="446.38" font-size="15.59" fill="#000">0.46</text>
<text x="179.86 189.05 193.90 203.21" y="446.38" font-size="15.59" fill="#000">0.49</text>
<text x="226.20 235.38 240.23 249.55" y="446.38" font-size="15.59" fill="#000">0.49</text>
<text x="272.75 281.94 286.79 296.15" y="446.38" font-size="15.59" fill="#000">0.46</text>
<text x="87.44 96.62 101.43 110.81" y="473.58" font-size="15.59" fill="#000">0.97</text>
<text x="133.53 142.71 147.57 156.73" y="473.58" font-size="15.59" fill="#000">0.82</text>
<text x="179.86 189.05 193.90 203.23" y="473.58" font-size="15.59" fill="#000">0.47</text>
<text x="226.20 235.38 240.18 249.56" y="473.58" font-size="15.59" fill="#000">0.57</text>
<text x="272.75 281.94 286.74 296.12" y="473.58" font-size="15.59" fill="#000">0.97</text>
<text x="87.44 96.62 101.47 110.75" y="500.62" font-size="15.59" fill="#000">0.41</text>
<text x="133.53 142.71 147.59 156.88" y="500.62" font-size="15.59" fill="#000">0.39</text>
<text x="179.86 189.05 193.71 203.26" y="500.62" font-size="15.59" fill="#000">0.24</text>
<text x="226.20 235.38 240.23 249.59" y="500.62" font-size="15.59" fill="#000">0.46</text>
<text x="272.75 281.94 286.81 296.15" y="500.62" font-size="15.59" fill="#000">0.30</text>
<text x="23.96 28.65 33.32 37.73 42.16 46.73 53.25 55.22 59.37 63.94 66.45 70.69 74.67" y="335.63" font-size="7.46">Random Forest</text>
<rect x="78.23" y="333.38" width="2.32" height="0.6" fill="#c8c8c8"/>
<text x="46.86 51.59 57.14 62.14 66.45 70.69 74.67" y="363.05" font-size="7.46">XGBoost</text>
<rect x="78.23" y="360.80" width="2.32" height="0.6" fill="#c8c8c8"/>
<text x="26.23 31.73 36.06 40.50 44.76 47.03 50.91 54.95 59.79 62.39 66.84 68.81 73.22" y="390.25" font-size="7.46">Deep Learning</text>
<rect x="78.23" y="388.00" width="2.32" height="0.6" fill="#c8c8c8"/>
<text x="30.44 35.94 40.16 44.20 46.02 49.82 51.71 56.11 60.40 62.51 66.24 68.75 73.08" y="417.45" font-size="7.46">Decision Tree</text>
<rect x="78.23" y="415.20" width="2.32" height="0.6" fill="#c8c8c8"/>
<text x="62.45 67.03 72.30" y="444.65" font-size="7.46">KNN</text>
<rect x="78.23" y="442.40" width="2.32" height="0.6" fill="#c8c8c8"/>
<text x="32.61 38.06 42.70 47.04 50.71 54.51 56.13 60.80 65.10 67.27 72.52" y="471.85" font-size="7.46">Gaussian NB</text>
<rect x="78.23" y="469.60" width="2.32" height="0.6" fill="#c8c8c8"/>
<text x="10.01 13.86 18.21 22.71 24.53 28.51 31.10 32.89 36.77 38.88 43.70 48.04 52.73 55.24 59.49 63.15 66.96 68.84 73.24" y="498.89" font-size="7.46">Logistic Regression</text>
<rect x="78.23" y="496.64" width="2.32" height="0.6" fill="#c8c8c8"/>
<rect x="103.17" y="510.38" width="0.6" height="2.32" fill="#c8c8c8"/>
<text x="-0.08 5.02 7.54 12.11 18.38 22.37 27.02 29.17 31.74" y="0.00" font-size="7.46" transform="translate(92.44,542.89) rotate(-45)">AtomPairs</text>
<rect x="149.27" y="510.38" width="0.6" height="2.32" fill="#c8c8c8"/>
<text x="-0.07 6.16 10.72 13.28 17.44 22.11" y="0.00" font-size="7.46" transform="translate(141.57,536.35) rotate(-45)">Morgan</text>
<rect x="195.60" y="510.38" width="0.6" height="2.32" fill="#c8c8c8"/>
<text x="-0.07 5.99 10.49 15.41 20.39" y="0.00" font-size="7.46" transform="translate(188.30,535.56) rotate(-45)">MACCS</text>
<rect x="241.93" y="510.38" width="0.6" height="2.32" fill="#c8c8c8"/>
<text x="-0.14 4.92 10.29 15.09 17.22" y="0.00" font-size="7.46" transform="translate(236.47,531.88) rotate(-45)">RDKit</text>
<rect x="288.49" y="510.38" width="0.6" height="2.32" fill="#c8c8c8"/>
<text x="-0.25 4.26 8.79 12.78 18.14 22.54 27.11" y="0.00" font-size="7.46" transform="translate(278.24,541.46) rotate(-45)">PubChem</text>
<text x="149.63 157.16 162.75 169.41 173.25 182.00 188.50 194.40 197.89 201.03 207.34 210.87 213.77 220.43 226.25 231.37 237.79 240.49" y="316.86" font-size="10.31" style="white-space:pre">Heatmap for Recall</text>
<text x="156.06 161.90 167.10 171.64 174.06 176.82 180.24 186.06 188.30 192.79 195.03 200.04 205.10 210.28 213.41 218.64 221.71 223.95 229.19 231.98" y="551.20" font-size="8.47">Rdkit + Fingerprints</text>
<text x="-0.31 5.75 7.59 12.72 16.88 21.20 23.58 26.24 28.40 33.58" y="0.00" font-size="8.47" transform="translate(7.34,434.29) rotate(-90)">Classifier</text>
<rect x="326.90" y="390.90" width="2.30" height="48.00" fill="url(#gc)"/>
<g clip-path="url(#cc)"><rect x="329.20" y="401.98" width="1.62" height="0.6" fill="#888"/><text x="331.79 334.80 336.39" y="404.07" font-size="5.11" fill="#000">0.8</text><rect x="329.20" y="414.99" width="1.62" height="0.6" fill="#888"/><text x="331.79 334.80 336.39" y="417.08" font-size="5.11" fill="#000">0.6</text><rect x="329.20" y="428.00" width="1.62" height="0.6" fill="#888"/><text x="331.79 334.80 336.39" y="430.09" font-size="5.11" fill="#000">0.4</text></g>
<text x="0.0" y="297.4" font-size="21.5" font-weight="bold" fill="#000">c<tspan dx="1">)</tspan></text></g><g id="pd"><rect x="425.40" y="319.72" width="46.05" height="26.71" fill="#b50927"/>
<rect x="471.40" y="319.72" width="46.07" height="26.71" fill="#b50927"/>
<rect x="517.42" y="319.72" width="46.07" height="26.71" fill="#b50927"/>
<rect x="563.45" y="319.72" width="46.07" height="26.71" fill="#b8122a"/>
<rect x="609.47" y="319.72" width="45.98" height="26.71" fill="#b50927"/>
<rect x="425.40" y="346.38" width="46.05" height="27.13" fill="#c12b30"/>
<rect x="471.40" y="346.38" width="46.07" height="27.13" fill="#c12b30"/>
<rect x="517.42" y="346.38" width="46.07" height="27.13" fill="#bd1f2d"/>
<rect x="563.45" y="346.38" width="46.07" height="27.13" fill="#c12b30"/>
<rect x="609.47" y="346.38" width="45.98" height="27.13" fill="#c12b30"/>
<rect x="425.40" y="373.46" width="46.05" height="27.13" fill="#b8122a"/>
<rect x="471.40" y="373.46" width="46.07" height="27.13" fill="#c12b30"/>
<rect x="517.42" y="373.46" width="46.07" height="27.13" fill="#bd1f2d"/>
<rect x="563.45" y="373.46" width="46.07" height="27.13" fill="#c12b30"/>
<rect x="609.47" y="373.46" width="45.98" height="27.13" fill="#bd1f2d"/>
<rect x="425.40" y="400.55" width="46.05" height="27.13" fill="#c53334"/>
<rect x="471.40" y="400.55" width="46.07" height="27.13" fill="#c53334"/>
<rect x="517.42" y="400.55" width="46.07" height="27.13" fill="#ca3b37"/>
<rect x="563.45" y="400.55" width="46.07" height="27.13" fill="#ca3b37"/>
<rect x="609.47" y="400.55" width="45.98" height="27.13" fill="#c53334"/>
<rect x="425.40" y="427.63" width="46.05" height="27.13" fill="#bd1f2d"/>
<rect x="471.40" y="427.63" width="46.07" height="27.13" fill="#bd1f2d"/>
<rect x="517.42" y="427.63" width="46.07" height="27.13" fill="#c12b30"/>
<rect x="563.45" y="427.63" width="46.07" height="27.13" fill="#c12b30"/>
<rect x="609.47" y="427.63" width="45.98" height="27.13" fill="#bd1f2d"/>
<rect x="425.40" y="454.72" width="46.05" height="27.13" fill="#3b4cc0"/>
<rect x="471.40" y="454.72" width="46.07" height="27.13" fill="#f3c8b2"/>
<rect x="517.42" y="454.72" width="46.07" height="27.13" fill="#f08a6c"/>
<rect x="563.45" y="454.72" width="46.07" height="27.13" fill="#f6bfa6"/>
<rect x="609.47" y="454.72" width="45.98" height="27.13" fill="#3b4cc0"/>
<rect x="425.40" y="481.80" width="46.05" height="26.75" fill="#bd1f2d"/>
<rect x="471.40" y="481.80" width="46.07" height="26.75" fill="#b8122a"/>
<rect x="517.42" y="481.80" width="46.07" height="26.75" fill="#b8122a"/>
<rect x="563.45" y="481.80" width="46.07" height="26.75" fill="#c12b30"/>
<rect x="609.47" y="481.80" width="45.98" height="26.75" fill="#bd1f2d"/>
<rect x="471.12" y="319.72" width="0.55" height="188.78" fill="#fff" fill-opacity="0.48"/>
<rect x="517.15" y="319.72" width="0.55" height="188.78" fill="#fff" fill-opacity="0.48"/>
<rect x="563.17" y="319.72" width="0.55" height="188.78" fill="#fff" fill-opacity="0.48"/>
<rect x="609.20" y="319.72" width="0.55" height="188.78" fill="#fff" fill-opacity="0.48"/>
<rect x="425.40" y="346.11" width="230.00" height="0.55" fill="#fff" fill-opacity="0.48"/>
<rect x="425.40" y="373.19" width="230.00" height="0.55" fill="#fff" fill-opacity="0.48"/>
<rect x="425.40" y="400.27" width="230.00" height="0.55" fill="#fff" fill-opacity="0.48"/>
<rect x="425.40" y="427.36" width="230.00" height="0.55" fill="#fff" fill-opacity="0.48"/>
<rect x="425.40" y="454.44" width="230.00" height="0.55" fill="#fff" fill-opacity="0.48"/>
<rect x="425.40" y="481.53" width="230.00" height="0.55" fill="#fff" fill-opacity="0.48"/>
<text x="432.47 441.59 446.37 455.71" y="336.70" font-size="15.48" fill="#000">0.98</text>
<text x="478.48 487.61 492.38 501.72" y="336.70" font-size="15.48" fill="#000">0.98</text>
<text x="524.51 533.63 538.40 547.75" y="336.70" font-size="15.48" fill="#000">0.98</text>
<text x="570.53 579.65 584.43 593.74" y="336.70" font-size="15.48" fill="#000">0.97</text>
<text x="616.51 625.63 630.40 639.75" y="336.70" font-size="15.48" fill="#000">0.98</text>
<text x="432.47 441.59 446.37 455.65" y="363.58" font-size="15.48" fill="#000">0.95</text>
<text x="478.48 487.61 492.38 501.67" y="363.58" font-size="15.48" fill="#000">0.95</text>
<text x="524.51 533.63 538.40 547.75" y="363.58" font-size="15.48" fill="#000">0.96</text>
<text x="570.53 579.65 584.43 593.71" y="363.58" font-size="15.48" fill="#000">0.95</text>
<text x="616.51 625.63 630.40 639.69" y="363.58" font-size="15.48" fill="#000">0.95</text>
<text x="432.47 441.59 446.37 455.68" y="390.66" font-size="15.48" fill="#000">0.97</text>
<text x="478.48 487.61 492.38 501.67" y="390.66" font-size="15.48" fill="#000">0.95</text>
<text x="524.51 533.63 538.40 547.75" y="390.66" font-size="15.48" fill="#000">0.96</text>
<text x="570.53 579.65 584.43 593.71" y="390.66" font-size="15.48" fill="#000">0.95</text>
<text x="616.51 625.63 630.40 639.75" y="390.66" font-size="15.48" fill="#000">0.96</text>
<text x="432.47 441.59 446.37 455.71" y="417.74" font-size="15.48" fill="#000">0.94</text>
<text x="478.48 487.61 492.38 501.72" y="417.74" font-size="15.48" fill="#000">0.94</text>
<text x="524.51 533.63 538.40 547.77" y="417.74" font-size="15.48" fill="#000">0.93</text>
<text x="570.53 579.65 584.43 593.79" y="417.74" font-size="15.48" fill="#000">0.93</text>
<text x="616.51 625.63 630.40 639.74" y="417.74" font-size="15.48" fill="#000">0.94</text>
<text x="432.47 441.59 446.37 455.71" y="444.83" font-size="15.48" fill="#000">0.96</text>
<text x="478.48 487.61 492.38 501.72" y="444.83" font-size="15.48" fill="#000">0.96</text>
<text x="524.51 533.63 538.40 547.69" y="444.83" font-size="15.48" fill="#000">0.95</text>
<text x="570.53 579.65 584.43 593.71" y="444.83" font-size="15.48" fill="#000">0.95</text>
<text x="616.51 625.63 630.40 639.75" y="444.83" font-size="15.48" fill="#000">0.96</text>
<text x="432.47 441.59 446.41 455.71" y="471.91" font-size="15.48" fill="#000">0.08</text>
<text x="478.48 487.61 492.43 501.74" y="471.91" font-size="15.48" fill="#000">0.63</text>
<text x="524.51 533.63 538.42 547.70" y="471.91" font-size="15.48" fill="#000">0.79</text>
<text x="570.53 579.65 584.47 593.77" y="471.91" font-size="15.48" fill="#000">0.66</text>
<text x="616.51 625.63 630.45 639.75" y="471.91" font-size="15.48" fill="#000">0.08</text>
<text x="432.47 441.59 446.37 455.71" y="498.80" font-size="15.48" fill="#000">0.96</text>
<text x="478.48 487.61 492.38 501.69" y="498.80" font-size="15.48" fill="#000">0.97</text>
<text x="524.51 533.63 538.40 547.72" y="498.80" font-size="15.48" fill="#000">0.97</text>
<text x="570.53 579.65 584.43 593.71" y="498.80" font-size="15.48" fill="#000">0.95</text>
<text x="616.51 625.63 630.40 639.75" y="498.80" font-size="15.48" fill="#000">0.96</text>
<text x="369.19 373.85 378.49 382.87 387.27 391.81 398.29 400.24 404.36 408.90 411.39 415.61 419.56" y="334.98" font-size="7.41">Random Forest</text>
<rect x="423.10" y="332.75" width="2.30" height="0.6" fill="#c8c8c8"/>
<text x="391.93 396.64 402.15 407.11 411.39 415.61 419.56" y="361.85" font-size="7.41">XGBoost</text>
<rect x="423.10" y="359.62" width="2.30" height="0.6" fill="#c8c8c8"/>
<text x="371.44 376.91 381.21 385.61 389.85 392.11 395.95 399.97 404.78 407.36 411.78 413.74 418.12" y="388.94" font-size="7.41">Deep Learning</text>
<rect x="423.10" y="386.71" width="2.30" height="0.6" fill="#c8c8c8"/>
<text x="375.63 381.09 385.28 389.29 391.10 394.88 396.75 401.12 405.38 407.48 411.19 413.68 417.98" y="416.02" font-size="7.41">Decision Tree</text>
<rect x="423.10" y="413.79" width="2.30" height="0.6" fill="#c8c8c8"/>
<text x="407.42 411.97 417.20" y="443.11" font-size="7.41">KNN</text>
<rect x="423.10" y="440.87" width="2.30" height="0.6" fill="#c8c8c8"/>
<text x="377.78 383.19 387.80 392.11 395.76 399.54 401.15 405.79 410.05 412.21 417.42" y="470.19" font-size="7.41">Gaussian NB</text>
<rect x="423.10" y="467.96" width="2.30" height="0.6" fill="#c8c8c8"/>
<text x="355.33 359.16 363.47 367.95 369.76 373.71 376.28 378.06 381.92 384.01 388.79 393.11 397.77 400.26 404.48 408.12 411.90 413.77 418.14" y="497.08" font-size="7.41">Logistic Regression</text>
<rect x="423.10" y="494.85" width="2.30" height="0.6" fill="#c8c8c8"/>
<rect x="448.10" y="508.50" width="0.6" height="2.30" fill="#c8c8c8"/>
<text x="-0.08 4.99 7.49 12.02 18.25 22.22 26.84 28.97 31.53" y="0.00" font-size="7.41" transform="translate(437.44,540.79) rotate(-45)">AtomPairs</text>
<rect x="494.11" y="508.50" width="0.6" height="2.30" fill="#c8c8c8"/>
<text x="-0.07 6.12 10.65 13.19 17.33 21.97" y="0.00" font-size="7.41" transform="translate(486.47,534.30) rotate(-45)">Morgan</text>
<rect x="540.13" y="508.50" width="0.6" height="2.30" fill="#c8c8c8"/>
<text x="-0.07 5.95 10.42 15.31 20.25" y="0.00" font-size="7.41" transform="translate(532.89,533.51) rotate(-45)">MACCS</text>
<rect x="586.16" y="508.50" width="0.6" height="2.30" fill="#c8c8c8"/>
<text x="-0.14 4.89 10.22 14.99 17.10" y="0.00" font-size="7.41" transform="translate(580.74,529.86) rotate(-45)">RDKit</text>
<rect x="632.13" y="508.50" width="0.6" height="2.30" fill="#c8c8c8"/>
<text x="-0.25 4.24 8.73 12.70 18.01 22.39 26.93" y="0.00" font-size="7.41" transform="translate(621.96,539.37) rotate(-45)">PubChem</text>
<text x="483.18 490.66 496.21 502.83 506.64 515.34 521.79 527.65 531.12 534.23 540.50 544.01 546.78 553.49 559.49 565.28 570.82 573.70 576.91 579.36 584.91 587.83 591.47" y="316.73" font-size="10.24" style="white-space:pre">Heatmap for Specificity</text>
<text x="500.36 506.17 511.33 515.84 518.24 520.99 524.38 530.16 532.38 536.85 539.08 544.05 549.07 554.22 557.33 562.52 565.58 567.80 573.01 575.78" y="549.05" font-size="8.41">Rdkit + Fingerprints</text>
<text x="-0.31 5.71 7.54 12.64 16.77 21.06 23.42 26.06 28.21 33.36" y="0.00" font-size="8.41" transform="translate(352.68,433.15) rotate(-90)">Classifier</text>
<rect x="669.90" y="390.40" width="2.40" height="47.50" fill="url(#gd)"/>
<g><rect x="672.30" y="399.74" width="1.61" height="0.6" fill="#888"/><text x="674.90 677.88 679.46" y="401.81" font-size="5.07" fill="#000">0.8</text><rect x="672.30" y="410.21" width="1.61" height="0.6" fill="#888"/><text x="674.90 677.88 679.46" y="412.29" font-size="5.07" fill="#000">0.6</text><rect x="672.30" y="420.68" width="1.61" height="0.6" fill="#888"/><text x="674.90 677.88 679.46" y="422.76" font-size="5.07" fill="#000">0.4</text><rect x="672.30" y="431.16" width="1.61" height="0.6" fill="#888"/><text x="674.90 677.88 679.40" y="433.23" font-size="5.07" fill="#000">0.2</text></g>
<text x="345.5" y="297.3" font-size="21.5" font-weight="bold" fill="#000">d<tspan dx="1">)</tspan></text></g><g id="pe"><rect x="80.90" y="601.45" width="46.53" height="27.13" fill="#b70d28"/>
<rect x="127.38" y="601.45" width="47.06" height="27.13" fill="#b40426"/>
<rect x="174.39" y="601.45" width="47.06" height="27.13" fill="#c83836"/>
<rect x="221.39" y="601.45" width="47.06" height="27.13" fill="#d44e41"/>
<rect x="268.40" y="601.45" width="46.45" height="27.13" fill="#c32e31"/>
<rect x="80.90" y="628.53" width="46.53" height="27.63" fill="#dd5f4b"/>
<rect x="127.38" y="628.53" width="47.06" height="27.63" fill="#f18d6f"/>
<rect x="174.39" y="628.53" width="47.06" height="27.63" fill="#e16751"/>
<rect x="221.39" y="628.53" width="47.06" height="27.63" fill="#ec7f63"/>
<rect x="268.40" y="628.53" width="46.45" height="27.63" fill="#e9785d"/>
<rect x="80.90" y="656.11" width="46.53" height="27.63" fill="#e46e56"/>
<rect x="127.38" y="656.11" width="47.06" height="27.63" fill="#ec7f63"/>
<rect x="174.39" y="656.11" width="47.06" height="27.63" fill="#ec7f63"/>
<rect x="221.39" y="656.11" width="47.06" height="27.63" fill="#ec7f63"/>
<rect x="268.40" y="656.11" width="46.45" height="27.63" fill="#ee8669"/>
<rect x="80.90" y="683.70" width="46.53" height="27.63" fill="#f6bda2"/>
<rect x="127.38" y="683.70" width="47.06" height="27.63" fill="#f7ad90"/>
<rect x="174.39" y="683.70" width="47.06" height="27.63" fill="#efcebd"/>
<rect x="221.39" y="683.70" width="47.06" height="27.63" fill="#f6bda2"/>
<rect x="268.40" y="683.70" width="46.45" height="27.63" fill="#f6bda2"/>
<rect x="80.90" y="711.28" width="46.53" height="27.63" fill="#e16751"/>
<rect x="127.38" y="711.28" width="47.06" height="27.63" fill="#e16751"/>
<rect x="174.39" y="711.28" width="47.06" height="27.63" fill="#e9785d"/>
<rect x="221.39" y="711.28" width="47.06" height="27.63" fill="#ec7f63"/>
<rect x="268.40" y="711.28" width="46.45" height="27.63" fill="#e16751"/>
<rect x="80.90" y="738.87" width="46.53" height="27.63" fill="#3b4cc0"/>
<rect x="127.38" y="738.87" width="47.06" height="27.63" fill="#7ea1fa"/>
<rect x="174.39" y="738.87" width="47.06" height="27.63" fill="#84a7fc"/>
<rect x="221.39" y="738.87" width="47.06" height="27.63" fill="#6282ea"/>
<rect x="268.40" y="738.87" width="46.45" height="27.63" fill="#3b4cc0"/>
<rect x="80.90" y="766.45" width="46.53" height="26.98" fill="#f49a7b"/>
<rect x="127.38" y="766.45" width="47.06" height="26.98" fill="#e46e56"/>
<rect x="174.39" y="766.45" width="47.06" height="26.98" fill="#f49a7b"/>
<rect x="221.39" y="766.45" width="47.06" height="26.98" fill="#f49a7b"/>
<rect x="268.40" y="766.45" width="46.45" height="26.98" fill="#f49a7b"/>
<rect x="127.10" y="601.45" width="0.55" height="191.93" fill="#fff" fill-opacity="0.48"/>
<rect x="174.11" y="601.45" width="0.55" height="191.93" fill="#fff" fill-opacity="0.48"/>
<rect x="221.12" y="601.45" width="0.55" height="191.93" fill="#fff" fill-opacity="0.48"/>
<rect x="268.12" y="601.45" width="0.55" height="191.93" fill="#fff" fill-opacity="0.48"/>
<rect x="80.90" y="628.25" width="233.90" height="0.55" fill="#fff" fill-opacity="0.48"/>
<rect x="80.90" y="655.84" width="233.90" height="0.55" fill="#fff" fill-opacity="0.48"/>
<rect x="80.90" y="683.42" width="233.90" height="0.55" fill="#fff" fill-opacity="0.48"/>
<rect x="80.90" y="711.01" width="233.90" height="0.55" fill="#fff" fill-opacity="0.48"/>
<rect x="80.90" y="738.59" width="233.90" height="0.55" fill="#fff" fill-opacity="0.48"/>
<rect x="80.90" y="766.18" width="233.90" height="0.55" fill="#fff" fill-opacity="0.48"/>
<text x="87.87 97.19 102.08 111.61" y="618.72" font-size="15.81" fill="#000">0.78</text>
<text x="134.61 143.93 148.82 158.30" y="618.72" font-size="15.81" fill="#000">0.79</text>
<text x="181.62 190.94 195.83 205.30" y="618.72" font-size="15.81" fill="#000">0.75</text>
<text x="228.63 237.94 242.84 252.38" y="618.72" font-size="15.81" fill="#000">0.73</text>
<text x="275.33 284.65 289.54 299.07" y="618.72" font-size="15.81" fill="#000">0.76</text>
<text x="87.87 97.19 102.08 111.53" y="646.05" font-size="15.81" fill="#000">0.71</text>
<text x="134.61 143.93 148.85 158.29" y="646.05" font-size="15.81" fill="#000">0.65</text>
<text x="181.62 190.94 195.83 205.36" y="646.05" font-size="15.81" fill="#000">0.70</text>
<text x="228.63 237.94 242.87 252.33" y="646.05" font-size="15.81" fill="#000">0.67</text>
<text x="275.33 284.65 289.57 299.07" y="646.05" font-size="15.81" fill="#000">0.68</text>
<text x="87.87 97.19 102.11 111.56" y="673.64" font-size="15.81" fill="#000">0.69</text>
<text x="134.61 143.93 148.85 158.32" y="673.64" font-size="15.81" fill="#000">0.67</text>
<text x="181.62 190.94 195.86 205.33" y="673.64" font-size="15.81" fill="#000">0.67</text>
<text x="228.63 237.94 242.87 252.33" y="673.64" font-size="15.81" fill="#000">0.67</text>
<text x="275.33 284.65 289.57 299.07" y="673.64" font-size="15.81" fill="#000">0.66</text>
<text x="87.87 97.19 102.05 111.58" y="701.22" font-size="15.81" fill="#000">0.57</text>
<text x="134.61 143.93 148.85 158.35" y="701.22" font-size="15.81" fill="#000">0.60</text>
<text x="181.62 190.94 195.80 205.38" y="701.22" font-size="15.81" fill="#000">0.53</text>
<text x="228.63 237.94 242.81 252.33" y="701.22" font-size="15.81" fill="#000">0.57</text>
<text x="275.33 284.65 289.51 299.04" y="701.22" font-size="15.81" fill="#000">0.57</text>
<text x="87.87 97.19 102.08 111.61" y="728.81" font-size="15.81" fill="#000">0.70</text>
<text x="134.61 143.93 148.82 158.35" y="728.81" font-size="15.81" fill="#000">0.70</text>
<text x="181.62 190.94 195.86 205.36" y="728.81" font-size="15.81" fill="#000">0.68</text>
<text x="228.63 237.94 242.87 252.33" y="728.81" font-size="15.81" fill="#000">0.67</text>
<text x="275.33 284.65 289.54 299.07" y="728.81" font-size="15.81" fill="#000">0.70</text>
<text x="87.87 97.19 102.03 111.58" y="756.39" font-size="15.81" fill="#000">0.17</text>
<text x="134.61 143.93 148.88 158.35" y="756.39" font-size="15.81" fill="#000">0.30</text>
<text x="181.62 190.94 195.88 205.28" y="756.39" font-size="15.81" fill="#000">0.31</text>
<text x="228.63 237.94 242.67 252.31" y="756.39" font-size="15.81" fill="#000">0.25</text>
<text x="275.33 284.65 289.49 299.04" y="756.39" font-size="15.81" fill="#000">0.17</text>
<text x="87.87 97.19 102.11 111.63" y="783.65" font-size="15.81" fill="#000">0.63</text>
<text x="134.61 143.93 148.85 158.30" y="783.65" font-size="15.81" fill="#000">0.69</text>
<text x="181.62 190.94 195.86 205.38" y="783.65" font-size="15.81" fill="#000">0.63</text>
<text x="228.63 237.94 242.87 252.38" y="783.65" font-size="15.81" fill="#000">0.63</text>
<text x="275.33 284.65 289.57 299.09" y="783.65" font-size="15.81" fill="#000">0.63</text>
<text x="23.49 28.25 32.99 37.46 41.96 46.59 53.21 55.20 59.41 64.05 66.59 70.90 74.93" y="616.96" font-size="7.57">Random Forest</text>
<rect x="78.55" y="614.69" width="2.35" height="0.6" fill="#c8c8c8"/>
<text x="46.72 51.52 57.15 62.22 66.59 70.90 74.93" y="644.30" font-size="7.57">XGBoost</text>
<rect x="78.55" y="642.02" width="2.35" height="0.6" fill="#c8c8c8"/>
<text x="25.79 31.37 35.77 40.26 44.59 46.90 50.83 54.93 59.84 62.48 66.99 68.99 73.47" y="671.88" font-size="7.57">Deep Learning</text>
<rect x="78.55" y="669.61" width="2.35" height="0.6" fill="#c8c8c8"/>
<text x="30.06 35.65 39.92 44.02 45.87 49.73 51.64 56.10 60.46 62.60 66.39 68.93 73.32" y="699.46" font-size="7.57">Decision Tree</text>
<rect x="78.55" y="697.19" width="2.35" height="0.6" fill="#c8c8c8"/>
<text x="62.54 67.18 72.53" y="727.05" font-size="7.57">KNN</text>
<rect x="78.55" y="724.77" width="2.35" height="0.6" fill="#c8c8c8"/>
<text x="32.26 37.79 42.50 46.90 50.63 54.48 56.13 60.87 65.22 67.43 72.75" y="754.63" font-size="7.57">Gaussian NB</text>
<rect x="78.55" y="752.36" width="2.35" height="0.6" fill="#c8c8c8"/>
<text x="9.34 13.24 17.65 22.22 24.07 28.10 30.73 32.55 36.49 38.62 43.51 47.92 52.68 55.22 59.53 63.25 67.11 69.02 73.49" y="781.89" font-size="7.57">Logistic Regression</text>
<rect x="78.55" y="779.62" width="2.35" height="0.6" fill="#c8c8c8"/>
<rect x="103.84" y="793.38" width="0.6" height="2.35" fill="#c8c8c8"/>
<text x="-0.08 5.09 7.65 12.28 18.64 22.70 27.42 29.59 32.20" y="0.00" font-size="7.57" transform="translate(92.94,826.36) rotate(-45)">AtomPairs</text>
<rect x="150.58" y="793.38" width="0.6" height="2.35" fill="#c8c8c8"/>
<text x="-0.07 6.25 10.88 13.47 17.70 22.44" y="0.00" font-size="7.57" transform="translate(142.77,819.73) rotate(-45)">Morgan</text>
<rect x="197.59" y="793.38" width="0.6" height="2.35" fill="#c8c8c8"/>
<text x="-0.07 6.08 10.65 15.64 20.69" y="0.00" font-size="7.57" transform="translate(190.18,818.92) rotate(-45)">MACCS</text>
<rect x="244.60" y="793.38" width="0.6" height="2.35" fill="#c8c8c8"/>
<text x="-0.14 4.99 10.44 15.31 17.47" y="0.00" font-size="7.57" transform="translate(239.05,815.19) rotate(-45)">RDKit</text>
<rect x="291.30" y="793.38" width="0.6" height="2.35" fill="#c8c8c8"/>
<text x="-0.25 4.33 8.92 12.97 18.40 22.87 27.51" y="0.00" font-size="7.57" transform="translate(280.90,824.91) rotate(-45)">PubChem</text>
<text x="143.10 150.74 156.40 163.17 167.06 175.94 182.53 188.51 192.06 195.24 201.64 205.22 208.01 214.61 218.13 224.03 229.70 232.25 237.58 240.22 246.39" y="598.39" font-size="10.46" style="white-space:pre">Heatmap for Precision</text>
<text x="156.96 162.89 168.16 172.77 175.22 178.02 181.49 187.40 189.66 194.22 196.50 201.58 206.71 211.97 215.14 220.45 223.57 225.84 231.16 233.98" y="834.79" font-size="8.59">Rdkit + Fingerprints</text>
<text x="-0.32 5.83 7.70 12.91 17.13 21.51 23.92 26.62 28.81 34.07" y="0.00" font-size="8.59" transform="translate(6.63,716.85) rotate(-90)">Classifier</text>
<rect x="329.50" y="673.20" width="2.50" height="48.40" fill="url(#ge)"/>
<g clip-path="url(#ce)"><rect x="332.00" y="687.54" width="1.65" height="0.6" fill="#888"/><text x="334.59 337.64 339.26" y="689.65" font-size="5.18" fill="#000">0.6</text><rect x="332.00" y="703.28" width="1.65" height="0.6" fill="#888"/><text x="334.59 337.64 339.26" y="705.39" font-size="5.18" fill="#000">0.4</text><rect x="332.00" y="719.02" width="1.65" height="0.6" fill="#888"/><text x="334.59 337.64 339.19" y="721.13" font-size="5.18" fill="#000">0.2</text></g>
<text x="0.0" y="578.6" font-size="21.5" font-weight="bold" fill="#000">e<tspan dx="1">)</tspan></text></g><g id="pf"><rect x="424.70" y="601.04" width="45.90" height="26.21" fill="#f5c2aa"/>
<rect x="470.55" y="601.04" width="45.69" height="26.21" fill="#dddcdc"/>
<rect x="516.19" y="601.04" width="45.69" height="26.21" fill="#f5c2aa"/>
<rect x="561.83" y="601.04" width="45.69" height="26.21" fill="#ed8366"/>
<rect x="607.47" y="601.04" width="45.18" height="26.21" fill="#f5c2aa"/>
<rect x="424.70" y="627.20" width="45.90" height="27.03" fill="#d95847"/>
<rect x="470.55" y="627.20" width="45.69" height="27.03" fill="#cc403a"/>
<rect x="516.19" y="627.20" width="45.69" height="27.03" fill="#e46e56"/>
<rect x="561.83" y="627.20" width="45.69" height="27.03" fill="#b40426"/>
<rect x="607.47" y="627.20" width="45.18" height="27.03" fill="#bb1b2c"/>
<rect x="424.70" y="654.18" width="45.90" height="27.03" fill="#f5c2aa"/>
<rect x="470.55" y="654.18" width="45.69" height="27.03" fill="#e46e56"/>
<rect x="516.19" y="654.18" width="45.69" height="27.03" fill="#f7a688"/>
<rect x="561.83" y="654.18" width="45.69" height="27.03" fill="#e46e56"/>
<rect x="607.47" y="654.18" width="45.18" height="27.03" fill="#ed8366"/>
<rect x="424.70" y="681.16" width="45.90" height="27.03" fill="#f7b599"/>
<rect x="470.55" y="681.16" width="45.69" height="27.03" fill="#f7a688"/>
<rect x="516.19" y="681.16" width="45.69" height="27.03" fill="#f5c2aa"/>
<rect x="561.83" y="681.16" width="45.69" height="27.03" fill="#f39577"/>
<rect x="607.47" y="681.16" width="45.18" height="27.03" fill="#f7b599"/>
<rect x="424.70" y="708.14" width="45.90" height="27.03" fill="#ed8366"/>
<rect x="470.55" y="708.14" width="45.69" height="27.03" fill="#e46e56"/>
<rect x="516.19" y="708.14" width="45.69" height="27.03" fill="#e46e56"/>
<rect x="561.83" y="708.14" width="45.69" height="27.03" fill="#e46e56"/>
<rect x="607.47" y="708.14" width="45.18" height="27.03" fill="#ed8366"/>
<rect x="424.70" y="735.12" width="45.90" height="27.03" fill="#3b4cc0"/>
<rect x="470.55" y="735.12" width="45.69" height="27.03" fill="#d95847"/>
<rect x="516.19" y="735.12" width="45.69" height="27.03" fill="#d2dbe8"/>
<rect x="561.83" y="735.12" width="45.69" height="27.03" fill="#c4d5f3"/>
<rect x="607.47" y="735.12" width="45.18" height="27.03" fill="#3b4cc0"/>
<rect x="424.70" y="762.10" width="45.90" height="27.18" fill="#d2dbe8"/>
<rect x="470.55" y="762.10" width="45.69" height="27.18" fill="#f7b599"/>
<rect x="516.19" y="762.10" width="45.69" height="27.18" fill="#b6cefa"/>
<rect x="561.83" y="762.10" width="45.69" height="27.18" fill="#f39577"/>
<rect x="607.47" y="762.10" width="45.18" height="27.18" fill="#d2dbe8"/>
<rect x="470.28" y="601.04" width="0.55" height="188.19" fill="#fff" fill-opacity="0.48"/>
<rect x="515.92" y="601.04" width="0.55" height="188.19" fill="#fff" fill-opacity="0.48"/>
<rect x="561.56" y="601.04" width="0.55" height="188.19" fill="#fff" fill-opacity="0.48"/>
<rect x="607.20" y="601.04" width="0.55" height="188.19" fill="#fff" fill-opacity="0.48"/>
<rect x="424.70" y="626.93" width="227.90" height="0.55" fill="#fff" fill-opacity="0.48"/>
<rect x="424.70" y="653.91" width="227.90" height="0.55" fill="#fff" fill-opacity="0.48"/>
<rect x="424.70" y="680.89" width="227.90" height="0.55" fill="#fff" fill-opacity="0.48"/>
<rect x="424.70" y="707.87" width="227.90" height="0.55" fill="#fff" fill-opacity="0.48"/>
<rect x="424.70" y="734.85" width="227.90" height="0.55" fill="#fff" fill-opacity="0.48"/>
<rect x="424.70" y="761.83" width="227.90" height="0.55" fill="#fff" fill-opacity="0.48"/>
<text x="431.83 440.88 445.66 454.85" y="617.74" font-size="15.35" fill="#000">0.67</text>
<text x="477.57 486.62 491.40 500.62" y="617.74" font-size="15.35" fill="#000">0.64</text>
<text x="523.21 532.26 537.04 546.23" y="617.74" font-size="15.35" fill="#000">0.67</text>
<text x="568.85 577.90 582.65 591.82" y="617.74" font-size="15.35" fill="#000">0.71</text>
<text x="614.24 623.29 628.07 637.26" y="617.74" font-size="15.35" fill="#000">0.67</text>
<text x="431.83 440.88 445.63 454.89" y="644.31" font-size="15.35" fill="#000">0.73</text>
<text x="477.57 486.62 491.37 500.62" y="644.31" font-size="15.35" fill="#000">0.74</text>
<text x="523.21 532.26 537.01 546.07" y="644.31" font-size="15.35" fill="#000">0.72</text>
<text x="568.85 577.90 582.65 591.90" y="644.31" font-size="15.35" fill="#000">0.76</text>
<text x="614.24 623.29 628.04 637.23" y="644.31" font-size="15.35" fill="#000">0.75</text>
<text x="431.83 440.88 445.66 454.85" y="671.29" font-size="15.35" fill="#000">0.67</text>
<text x="477.57 486.62 491.37 500.43" y="671.29" font-size="15.35" fill="#000">0.72</text>
<text x="523.21 532.26 537.04 546.21" y="671.29" font-size="15.35" fill="#000">0.69</text>
<text x="568.85 577.90 582.65 591.71" y="671.29" font-size="15.35" fill="#000">0.72</text>
<text x="614.24 623.29 628.04 637.21" y="671.29" font-size="15.35" fill="#000">0.71</text>
<text x="431.83 440.88 445.66 454.87" y="698.27" font-size="15.35" fill="#000">0.68</text>
<text x="477.57 486.62 491.40 500.57" y="698.27" font-size="15.35" fill="#000">0.69</text>
<text x="523.21 532.26 537.04 546.23" y="698.27" font-size="15.35" fill="#000">0.67</text>
<text x="568.85 577.90 582.65 591.90" y="698.27" font-size="15.35" fill="#000">0.70</text>
<text x="614.24 623.29 628.07 637.28" y="698.27" font-size="15.35" fill="#000">0.68</text>
<text x="431.83 440.88 445.63 454.80" y="725.25" font-size="15.35" fill="#000">0.71</text>
<text x="477.57 486.62 491.37 500.43" y="725.25" font-size="15.35" fill="#000">0.72</text>
<text x="523.21 532.26 537.01 546.07" y="725.25" font-size="15.35" fill="#000">0.72</text>
<text x="568.85 577.90 582.65 591.71" y="725.25" font-size="15.35" fill="#000">0.72</text>
<text x="614.24 623.29 628.04 637.21" y="725.25" font-size="15.35" fill="#000">0.71</text>
<text x="431.83 440.88 445.60 454.68" y="752.23" font-size="15.35" fill="#000">0.52</text>
<text x="477.57 486.62 491.37 500.64" y="752.23" font-size="15.35" fill="#000">0.73</text>
<text x="523.21 532.26 537.04 546.28" y="752.23" font-size="15.35" fill="#000">0.63</text>
<text x="568.85 577.90 582.68 591.71" y="752.23" font-size="15.35" fill="#000">0.62</text>
<text x="614.24 623.29 628.01 637.09" y="752.23" font-size="15.35" fill="#000">0.52</text>
<text x="431.83 440.88 445.66 454.89" y="779.29" font-size="15.35" fill="#000">0.63</text>
<text x="477.57 486.62 491.40 500.62" y="779.29" font-size="15.35" fill="#000">0.68</text>
<text x="523.21 532.26 537.04 546.18" y="779.29" font-size="15.35" fill="#000">0.61</text>
<text x="568.85 577.90 582.65 591.90" y="779.29" font-size="15.35" fill="#000">0.70</text>
<text x="614.24 623.29 628.07 637.30" y="779.29" font-size="15.35" fill="#000">0.63</text>
<text x="368.96 373.58 378.18 382.52 386.89 391.39 397.81 399.75 403.84 408.34 410.81 414.99 418.91" y="616.04" font-size="7.35">Random Forest</text>
<rect x="422.42" y="613.82" width="2.28" height="0.6" fill="#c8c8c8"/>
<text x="391.51 396.18 401.64 406.56 410.81 414.99 418.91" y="642.61" font-size="7.35">XGBoost</text>
<rect x="422.42" y="640.39" width="2.28" height="0.6" fill="#c8c8c8"/>
<text x="371.19 376.61 380.88 385.25 389.45 391.68 395.50 399.48 404.25 406.81 411.19 413.14 417.48" y="669.59" font-size="7.35">Deep Learning</text>
<rect x="422.42" y="667.37" width="2.28" height="0.6" fill="#c8c8c8"/>
<text x="375.34 380.76 384.91 388.89 390.69 394.43 396.29 400.62 404.85 406.93 410.61 413.08 417.35" y="696.57" font-size="7.35">Decision Tree</text>
<rect x="422.42" y="694.35" width="2.28" height="0.6" fill="#c8c8c8"/>
<text x="406.87 411.38 416.57" y="723.55" font-size="7.35">KNN</text>
<rect x="422.42" y="721.33" width="2.28" height="0.6" fill="#c8c8c8"/>
<text x="377.48 382.84 387.42 391.69 395.31 399.05 400.65 405.25 409.48 411.62 416.79" y="750.53" font-size="7.35">Gaussian NB</text>
<rect x="422.42" y="748.31" width="2.28" height="0.6" fill="#c8c8c8"/>
<text x="355.22 359.01 363.29 367.73 369.52 373.44 375.99 377.75 381.58 383.65 388.40 392.68 397.30 399.77 403.95 407.57 411.31 413.17 417.50" y="777.58" font-size="7.35">Logistic Regression</text>
<rect x="422.42" y="775.37" width="2.28" height="0.6" fill="#c8c8c8"/>
<rect x="447.32" y="789.23" width="0.6" height="2.28" fill="#c8c8c8"/>
<text x="-0.08 4.94 7.42 11.92 18.10 22.04 26.62 28.73 31.27" y="0.00" font-size="7.35" transform="translate(436.75,821.25) rotate(-45)">AtomPairs</text>
<rect x="493.07" y="789.23" width="0.6" height="2.28" fill="#c8c8c8"/>
<text x="-0.07 6.07 10.56 13.08 17.18 21.78" y="0.00" font-size="7.35" transform="translate(485.50,814.81) rotate(-45)">Morgan</text>
<rect x="538.71" y="789.23" width="0.6" height="2.28" fill="#c8c8c8"/>
<text x="-0.07 5.91 10.34 15.18 20.08" y="0.00" font-size="7.35" transform="translate(531.53,814.03) rotate(-45)">MACCS</text>
<rect x="584.35" y="789.23" width="0.6" height="2.28" fill="#c8c8c8"/>
<text x="-0.13 4.85 10.14 14.86 16.96" y="0.00" font-size="7.35" transform="translate(578.98,810.41) rotate(-45)">RDKit</text>
<rect x="629.74" y="789.23" width="0.6" height="2.28" fill="#c8c8c8"/>
<text x="-0.25 4.20 8.66 12.59 17.86 22.21 26.71" y="0.00" font-size="7.35" transform="translate(619.64,819.85) rotate(-45)">PubChem</text>
<text x="461.05 468.47 473.97 480.54 484.31 492.94 499.34 505.14 508.59 511.68 517.89 521.37 524.30 530.74 537.07 539.28 545.63 551.46 556.89 562.80 568.73 571.66 578.14 583.41 588.89 595.24 598.46 604.57 610.15" y="598.07" font-size="10.16" style="white-space:pre">Heatmap for Balanced Accuracy</text>
<text x="498.95 504.70 509.82 514.30 516.68 519.40 522.77 528.50 530.70 535.13 537.34 542.27 547.25 552.36 555.44 560.59 563.62 565.83 570.99 573.73" y="829.44" font-size="8.34">Rdkit + Fingerprints</text>
<text x="-0.31 5.66 7.48 12.53 16.63 20.88 23.23 25.84 27.98 33.08" y="0.00" font-size="8.34" transform="translate(352.59,714.03) rotate(-90)">Classifier</text>
<rect x="666.90" y="671.60" width="2.40" height="47.00" fill="url(#gf)"/>
<g><rect x="669.30" y="672.40" width="1.60" height="0.6" fill="#888"/><text x="671.90 674.86 676.42 679.43" y="674.46" font-size="5.03" fill="#000">0.75</text><rect x="669.30" y="682.57" width="1.60" height="0.6" fill="#888"/><text x="671.90 674.86 676.42 679.45" y="684.63" font-size="5.03" fill="#000">0.70</text><rect x="669.30" y="692.75" width="1.60" height="0.6" fill="#888"/><text x="671.90 674.86 676.43 679.43" y="694.81" font-size="5.03" fill="#000">0.65</text><rect x="669.30" y="702.92" width="1.60" height="0.6" fill="#888"/><text x="671.90 674.86 676.43 679.45" y="704.98" font-size="5.03" fill="#000">0.60</text><rect x="669.30" y="713.09" width="1.60" height="0.6" fill="#888"/><text x="671.90 674.86 676.41 679.43" y="715.15" font-size="5.03" fill="#000">0.55</text></g>
<text x="345.5" y="578.6" font-size="21.5" font-weight="bold" fill="#000">f<tspan dx="1">)</tspan></text></g>
</svg>
</body></html>
